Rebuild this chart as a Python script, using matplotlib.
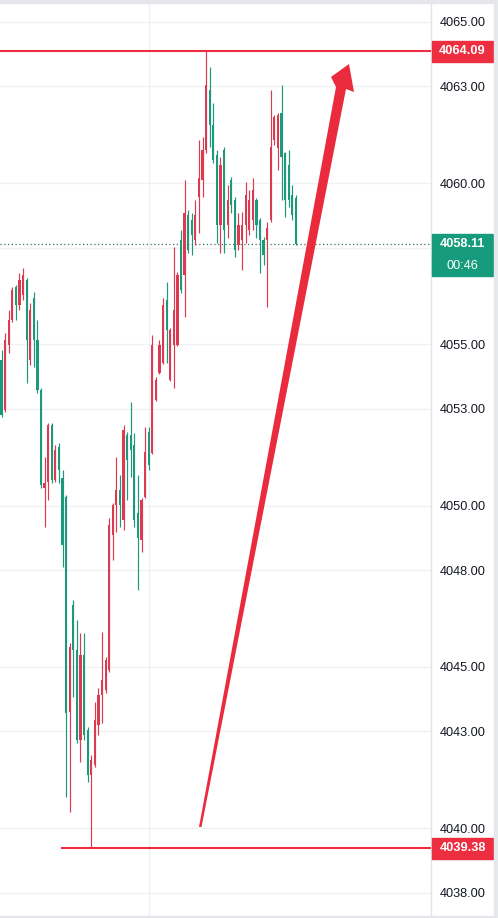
import matplotlib
matplotlib.use("Agg")
import matplotlib.pyplot as plt
import matplotlib.transforms as mtransforms
from matplotlib.patches import Rectangle, Polygon

# 1 minute candles
opens = [4054.52, 4052.97, 4054.98, 4055.76, 4056.78, 4056.22, 4056.53, 4057.00, 4054.52, 4056.44,
         4055.14, 4053.59, 4050.55, 4050.73, 4052.50, 4050.79, 4051.82, 4050.86, 4050.27, 4043.60,
         4046.92, 4045.52, 4042.73, 4045.37, 4043.04, 4041.64, 4041.95, 4043.20, 4044.13, 4044.28,
         4044.90, 4049.09, 4050.02, 4050.48, 4049.55, 4052.19, 4052.19, 4051.88, 4049.77, 4048.93,
         4050.27, 4052.28, 4051.63, 4053.28, 4054.11, 4054.42, 4056.38, 4053.90, 4054.98, 4054.98,
         4058.24, 4057.15, 4059.01, 4058.86, 4058.24, 4059.57, 4060.10, 4061.03, 4062.89, 4061.80,
         4060.87, 4058.70, 4061.03, 4058.70, 4060.10, 4059.48, 4058.08, 4058.24, 4058.70, 4058.55,
         4058.86, 4059.48, 4058.86, 4058.24, 4058.24, 4058.86, 4061.34, 4061.09, 4062.18, 4060.94,
         4060.56, 4059.63, 4059.54]
highs = [4054.83, 4055.35, 4056.07, 4056.78, 4056.84, 4057.21, 4057.37, 4057.06, 4056.28, 4056.63,
         4055.76, 4053.65, 4051.51, 4052.56, 4052.56, 4051.88, 4051.94, 4051.10, 4050.33, 4045.74,
         4047.07, 4046.45, 4046.05, 4046.05, 4043.13, 4042.26, 4043.91, 4044.34, 4046.08, 4045.30,
         4049.62, 4050.08, 4051.51, 4050.95, 4052.50, 4052.28, 4053.21, 4052.25, 4050.95, 4050.24,
         4052.44, 4052.44, 4055.29, 4053.99, 4055.14, 4056.44, 4056.94, 4055.51, 4058.02, 4057.25,
         4058.55, 4060.10, 4059.17, 4059.08, 4059.48, 4061.34, 4061.43, 4064.09, 4063.60, 4062.49,
         4061.03, 4060.81, 4061.12, 4059.94, 4060.19, 4059.57, 4059.08, 4059.11, 4060.04, 4059.79,
         4060.16, 4059.54, 4058.92, 4058.33, 4058.80, 4062.89, 4062.12, 4062.18, 4063.05, 4060.97,
         4061.03, 4059.94, 4059.63]
lows = [4052.75, 4052.90, 4054.73, 4055.70, 4055.76, 4056.07, 4056.38, 4053.80, 4054.36, 4054.30,
        4053.49, 4050.55, 4049.34, 4050.17, 4050.70, 4050.73, 4050.70, 4048.10, 4040.96, 4040.50,
        4044.06, 4042.64, 4042.05, 4042.73, 4041.43, 4039.38, 4041.89, 4042.89, 4043.26, 4044.20,
        4044.84, 4048.31, 4049.18, 4049.34, 4049.24, 4050.17, 4050.89, 4049.34, 4047.38, 4048.56,
        4050.24, 4051.10, 4051.60, 4053.25, 4054.08, 4054.40, 4054.42, 4053.87, 4053.65, 4054.95,
        4056.59, 4055.85, 4057.83, 4057.77, 4058.08, 4058.46, 4059.57, 4060.94, 4061.12, 4060.63,
        4058.14, 4057.83, 4057.83, 4058.30, 4059.08, 4057.71, 4057.93, 4057.31, 4058.14, 4058.39,
        4058.55, 4058.30, 4057.21, 4057.46, 4056.16, 4058.80, 4061.18, 4060.41, 4059.48, 4058.95,
        4059.26, 4058.86, 4058.08]
closes = [4052.81, 4055.14, 4055.76, 4056.69, 4056.22, 4057.00, 4057.15, 4055.14, 4056.07, 4055.14,
          4053.59, 4050.64, 4050.70, 4052.50, 4050.79, 4051.72, 4051.10, 4048.78, 4043.57, 4045.61,
          4045.52, 4042.73, 4045.37, 4042.89, 4041.64, 4042.11, 4043.35, 4044.13, 4044.59, 4045.21,
          4049.40, 4050.02, 4050.48, 4050.02, 4052.35, 4051.41, 4051.72, 4049.55, 4049.00, 4050.17,
          4051.66, 4051.26, 4054.98, 4053.90, 4054.98, 4056.22, 4055.45, 4055.45, 4056.07, 4057.15,
          4056.69, 4059.08, 4057.93, 4058.39, 4059.01, 4060.16, 4061.03, 4063.05, 4061.80, 4060.72,
          4058.70, 4060.56, 4058.55, 4059.48, 4059.32, 4057.93, 4058.70, 4058.70, 4059.63, 4059.48,
          4059.79, 4058.70, 4058.24, 4057.77, 4058.61, 4061.12, 4062.05, 4062.12, 4060.81, 4059.48,
          4059.48, 4059.01, 4058.11]

price_ticks = [4038, 4040, 4043, 4045, 4048, 4050, 4053, 4055, 4058, 4060, 4063, 4065]
high_mark = 4064.09
low_mark = 4039.38
last_price = 4058.11
countdown = "00:46"

UP = "#dc3a50"      # red = rising candle
DOWN = "#1b9a7b"    # green = falling candle
MARK_RED = "#ec2e40"
LAST_GREEN = "#169c7c"

W, H = 498, 918
fig = plt.figure(figsize=(W / 100, H / 100), dpi=100)
fig.patch.set_facecolor("white")
ax = fig.add_axes([0, 0, 431 / W, 1])

n = len(opens)
xs = list(range(n))
colors = [UP if c >= o else DOWN for o, c in zip(opens, closes)]

# wicks + bodies
ax.vlines(xs, lows, highs, colors=colors, lw=0.85, zorder=3)
bottoms = [min(o, c) for o, c in zip(opens, closes)]
heights = [max(abs(c - o), 0.04) for o, c in zip(opens, closes)]
ax.bar(xs, heights, bottom=bottoms, width=0.62, color=colors, lw=0, zorder=3)

ax.set_xlim(-0.42, 119.64)
ax.set_ylim(4037.21, 4065.68)

# price scale on the right; the 4058 label sits under the last-price tag
ax.yaxis.tick_right()
ax.set_yticks(price_ticks)
tick_text = ["" if t == 4058 else "%.2f" % t for t in price_ticks]
ax.set_yticklabels(tick_text, fontsize=9.2,
                   family=["Liberation Sans", "DejaVu Sans"], color="#131722")
ax.tick_params(axis="y", length=0, pad=6.5)
ax.set_xticks([41])
ax.tick_params(axis="x", length=0, labelbottom=False)
ax.grid(True, color="#f0f1f4", lw=1, zorder=0)
for side in ["top", "bottom", "left"]:
    ax.spines[side].set_visible(False)
ax.spines["right"].set_color("#e0e3eb")
ax.spines["right"].set_linewidth(1)

# high / low markers and last price line
ax.axhline(high_mark, color=MARK_RED, lw=1.5, zorder=4)
ax.hlines(low_mark, 16.6, 119.64, color=MARK_RED, lw=1.5, zorder=4)
ax.axhline(last_price, color="#3f6f66", lw=0.9, ls=(0, (1, 2)), zorder=2)

# labels on the price scale
lab = mtransforms.blended_transform_factory(fig.transFigure, ax.transData)
px = 1 / 32.24  # one pixel in price units
box_x0, box_w = 432 / W, 61 / W
cx = box_x0 + box_w / 2
lab_font = dict(fontsize=9.2, color="white", ha="center", va="center", fontweight="bold",
                family=["Liberation Sans", "DejaVu Sans"], zorder=11)
for val, col in [(high_mark, MARK_RED), (low_mark, MARK_RED)]:
    fig.patches.append(Rectangle((box_x0, val - 10.5 * px), box_w, 21 * px,
                                 transform=lab, color=col, zorder=10))
    fig.text(cx, val, "%.2f" % val, transform=lab, **lab_font)
fig.patches.append(Rectangle((box_x0, last_price - 32 * px), box_w, 42 * px,
                             transform=lab, color=LAST_GREEN, zorder=10))
fig.text(cx, last_price, "%.2f" % last_price, transform=lab, **lab_font)
fig.text(cx, last_price - 22 * px, countdown, transform=lab,
         **dict(lab_font, fontweight="normal"))

# frame strips of the screenshot
fig.patches.append(Rectangle((0, 1 - 2.5 / H), 1, 2.5 / H, transform=fig.transFigure,
                             color="#e6e7eb", zorder=12))
fig.patches.append(Rectangle((0, 0), 1, 2.5 / H, transform=fig.transFigure,
                             color="#e6e7eb", zorder=12))
fig.patches.append(Rectangle((494 / W, 0), 4 / W, 1, transform=fig.transFigure,
                             color="#e6e7eb", zorder=12))

# hand drawn red arrow (pixel coordinates, origin top left)
pix = mtransforms.Affine2D().scale(1 / W, -1 / H).translate(0, 1) + fig.transFigure
arrow = [(199, 827), (201.5, 827), (346, 89), (354, 92), (349, 64), (331, 77), (336, 87)]
fig.patches.append(Polygon(arrow, closed=True, transform=pix, color="#ea2b3e",
                           lw=0, zorder=9))

fig.savefig("out.png", dpi=100)
